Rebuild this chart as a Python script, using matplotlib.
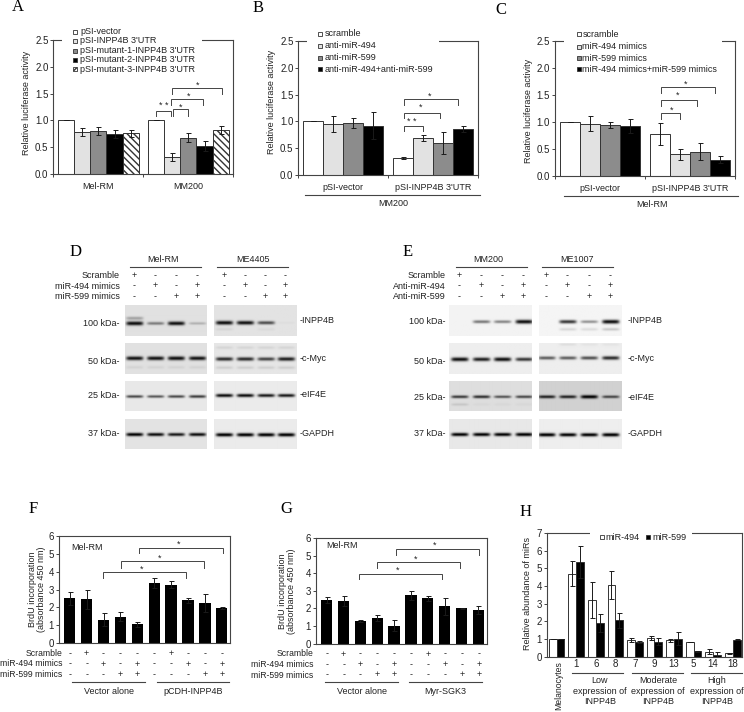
import numpy as np
import matplotlib
matplotlib.use("Agg")
import matplotlib.pyplot as plt
from matplotlib.patches import Rectangle

plt.rcParams['font.family'] = ['Liberation Sans', 'DejaVu Sans']

# --- Data ---
A_CATS = ['Mel-RM', 'MM200']
A_LEG = ['pSI-vector', "pSI-INPP4B 3'UTR", "pSI-mutant-1-INPP4B 3'UTR", "pSI-mutant-2-INPP4B 3'UTR", "pSI-mutant-3-INPP4B 3'UTR"]
A_VALS = [[1.0, 1.0], [0.78, 0.32], [0.80, 0.68], [0.75, 0.52], [0.76, 0.82]]
A_ERR = [[0, 0], [0.07, 0.07], [0.07, 0.08], [0.08, 0.09], [0.07, 0.07]]

B_CATS = ['pSI-vector', "pSI-INPP4B 3'UTR"]
B_LEG = ['scramble', 'anti-miR-494', 'anti-miR-599', 'anti-miR-494+anti-miR-599']
B_VALS = [[1.0, 0.32], [0.95, 0.69], [0.97, 0.60], [0.92, 0.86]]
B_ERR = [[0, 0.02], [0.15, 0.05], [0.10, 0.20], [0.25, 0.05]]

C_CATS = ['pSI-vector', "pSI-INPP4B 3'UTR"]
C_LEG = ['scramble', 'miR-494 mimics', 'miR-599 mimics', 'miR-494 mimics+miR-599 mimics']
C_VALS = [[1.0, 0.78], [0.97, 0.40], [0.94, 0.45], [0.93, 0.30]]
C_ERR = [[0, 0.20], [0.14, 0.10], [0.05, 0.16], [0.13, 0.07]]

F_VALS = [2.50, 2.45, 1.30, 1.47, 1.03, 3.37, 3.28, 2.38, 2.22, 1.97]
F_ERR = [0.35, 0.55, 0.35, 0.25, 0.13, 0.27, 0.18, 0.15, 0.50, 0.05]
G_VALS = [2.48, 2.42, 1.30, 1.47, 1.02, 2.75, 2.57, 2.12, 2.00, 1.92]
G_ERR = [0.15, 0.27, 0.05, 0.18, 0.30, 0.25, 0.12, 0.50, 0.05, 0.22]

SCRAMBLE_SIGNS = list('-+---' '-+---')
M494_SIGNS = list('--+-+' '--+-+')
M599_SIGNS = list('---++' '---++')

H_CATS = ['Melanocytes', '1', '6', '8', '7', '9', '13', '5', '14', '18']
H_494 = [1.0, 4.70, 3.20, 4.07, 0.95, 1.05, 0.92, 0.83, 0.28, 0.20]
H_494_ERR = [0, 0.70, 1.00, 0.80, 0.12, 0.12, 0.08, 0.02, 0.13, 0.03]
H_599 = [0.98, 5.37, 1.90, 2.07, 0.82, 0.85, 1.02, 0.30, 0.10, 0.95]
H_599_ERR = [0, 0.90, 0.50, 0.43, 0.05, 0.20, 0.35, 0.05, 0.15, 0.03]

# blot band strengths per row (INPP4B, c-Myc, eIF4E, GAPDH)
D_MEL = [[1.0, 0.45, 0.9, 0.22], [0.9, 0.9, 0.95, 0.9], [0.6, 0.55, 0.6, 0.65], [0.9, 0.85, 0.8, 0.85]]
D_ME4405 = [[0.95, 0.9, 0.65, 0.03], [0.8, 0.8, 0.7, 0.85], [0.85, 0.85, 0.8, 0.8], [0.95, 0.95, 0.95, 0.95]]
E_MM200 = [[0.0, 0.5, 0.45, 0.95], [0.95, 0.85, 0.95, 0.75], [0.65, 0.7, 0.55, 0.6], [0.9, 0.9, 0.9, 0.95]]
E_ME1007 = [[0.0, 0.75, 0.4, 0.95], [0.6, 0.6, 0.65, 0.8], [0.75, 0.75, 0.95, 0.6], [0.95, 0.9, 0.9, 0.95]]
D_BG = [[0.88, 0.88, 0.91, 0.89], [0.89, 0.90, 0.92, 0.92]]
E_BG = [[0.95, 0.93, 0.87, 0.91], [0.96, 0.93, 0.82, 0.93]]
# faint extra bands: (blot, row) -> list of (y offset in the row, strength per lane)
FAINT = {
    (0, 0): [(12.3, [0.3, 0, 0, 0])],
    (0, 1): [(23, [0.06, 0.06, 0.06, 0.06])],
    (1, 0): [(23, [0.06, 0, 0.04, 0])],
    (1, 1): [(4, [0.07, 0.07, 0.07, 0.07]), (23.3, [0.1, 0.1, 0.1, 0.1])],
    (2, 2): [(23, [0.1, 0.03, 0.03, 0.03])],
    (3, 0): [(23, [0, 0.12, 0.1, 0.18])],
    (3, 1): [(1, [0, 0.06, 0.04, 0.04])],
}

COLORS = ['white', '#e2e2e2', '#8c8c8c', 'black']
EDGE = '#333333'
GRAY = '#444444'
ERR = '#1a1a1a'

fig = plt.figure(figsize=(7.44, 7.12), dpi=100)


def px_axes(left, top, right, bottom):
    return fig.add_axes([left / 744, 1 - bottom / 712, (right - left) / 744, (bottom - top) / 712])


def style(ax, ymax, yticks, fmt):
    ax.set_ylim(0, ymax)
    ax.set_yticks(yticks)
    ax.set_yticklabels([fmt % t for t in yticks], fontsize=7, color='#222222')
    ax.tick_params(axis='y', length=2, width=0.7, pad=1.5, color=GRAY)
    ax.tick_params(axis='x', length=2, width=0.7, color=GRAY)
    for s in ax.spines.values():
        s.set_linewidth(0.8)
        s.set_color(GRAY)


def luciferase(ax, cats, vals, errs, width, label_y):
    n = len(vals)
    for i in range(n):
        xs = np.arange(2) + 0.5 + (i - (n - 1) / 2) * width
        hatch = None
        color = COLORS[i] if i < 4 else 'white'
        if i == 4:
            hatch = '\\\\\\\\\\'
        ax.bar(xs, vals[i], width, color=color, edgecolor=EDGE, linewidth=0.7, hatch=hatch)
        ax.errorbar(xs, vals[i], yerr=errs[i], fmt='none', ecolor=ERR, elinewidth=0.7, capsize=1.8, capthick=0.7)
    ax.set_xlim(0, 2)
    ax.set_xticks([0, 1, 2])
    ax.set_xticklabels([])
    ax.set_xticks([0.5, 1.5], minor=True)
    ax.set_xticklabels(cats, minor=True, fontsize=6.5, color='#222222')
    ax.tick_params(axis='x', which='minor', length=0, pad=6)
    style(ax, 2.5, [0, 0.5, 1.0, 1.5, 2.0, 2.5], '%.1f')
    ax.set_ylabel('Relative luciferase activity', fontsize=6.5, color='#222222', labelpad=3, y=label_y)


def brdu(ax, vals, errs, x_first, pitch, left, right, labelpad):
    xs = np.arange(len(vals))
    ax.bar(xs, vals, 0.67, color='black')
    ax.errorbar(xs, vals, yerr=errs, fmt='none', ecolor=ERR, elinewidth=0.7, capsize=1.8, capthick=0.7)
    ax.set_xlim((left - x_first) / pitch, (right - x_first) / pitch)
    ax.set_xticks([])
    style(ax, 6, [0, 1, 2, 3, 4, 5, 6], '%d')
    ax.set_ylabel('BrdU incorporation\n(absorbance 450 nm)', fontsize=6.5, color='#222222', labelpad=labelpad, linespacing=1.0)


# Panels A, B, C
ax_a = px_axes(53.3, 40, 233.3, 174)
luciferase(ax_a, A_CATS, A_VALS, A_ERR, 0.181, 0.53)
ax_b = px_axes(298.3, 41, 478, 175)
luciferase(ax_b, B_CATS, B_VALS, B_ERR, 0.222, 0.547)
ax_c = px_axes(555, 41.3, 735, 175.7)
luciferase(ax_c, C_CATS, C_VALS, C_ERR, 0.222, 0.48)

# Panels F, G
ax_f = px_axes(59, 536.3, 230, 642.7)
brdu(ax_f, F_VALS, F_ERR, 69.7, 16.9, 59, 230, 2)
ax_g = px_axes(316, 538, 486.7, 643.7)
brdu(ax_g, G_VALS, G_ERR, 326.7, 16.85, 316, 486.7, 7)

# Panel H
ax_h = px_axes(546.7, 533, 741.7, 656.7)
xh = np.arange(len(H_CATS))
ax_h.bar(xh - 0.2, H_494, 0.4, color='white', edgecolor=EDGE, linewidth=0.7)
ax_h.bar(xh + 0.2, H_599, 0.4, color='black', edgecolor=EDGE, linewidth=0.7)
ax_h.errorbar(xh - 0.2, H_494, yerr=H_494_ERR, fmt='none', ecolor=ERR, elinewidth=0.7, capsize=1.8, capthick=0.7)
ax_h.errorbar(xh + 0.2, H_599, yerr=H_599_ERR, fmt='none', ecolor=ERR, elinewidth=0.7, capsize=1.8, capthick=0.7)
ax_h.set_xlim(-0.51, 9.46)
ax_h.set_xticks(xh[1:])
ax_h.set_xticklabels(H_CATS[1:], fontsize=7, color='#222222')
style(ax_h, 7, [0, 1, 2, 3, 4, 5, 6, 7], '%d')
ax_h.tick_params(axis='x', length=0, pad=2)
ax_h.set_ylabel('Relative abundance of miRs', fontsize=6.5, color='#222222', labelpad=3, y=0.51)

# overlay in pixel coordinates for labels, brackets, blots
ov = fig.add_axes([0, 0, 1, 1], zorder=10)
ov.patch.set_alpha(0)
ov.axis('off')


def txt(x, y, s, ha='left', size=6.5, **kw):
    ov.text(x, y, s, ha=ha, va='center', fontsize=size, color=kw.pop('color', '#222222'), **kw)


def bracket(x0, x1, top, bottom, star_x, star_y, stars='*'):
    ov.plot([x0, x0, x1, x1], [bottom, top, top, bottom], color=GRAY, lw=0.7, solid_joinstyle='miter')
    txt(star_x, star_y, stars, ha='center', size=6.5)


def gap(x0, x1, y):
    ov.add_patch(Rectangle((x0, y - 2), x1 - x0, 4, color='white', zorder=1.5, lw=0))


def legend(x_sq, x_txt, ys, labels):
    for i, (y, lab) in enumerate(zip(ys, labels)):
        hatch = '//////' if i == 4 else None
        ov.add_patch(Rectangle((x_sq - 2, y - 2), 4, 4, facecolor=COLORS[i] if i < 4 else 'white',
                               edgecolor=EDGE, lw=0.6, hatch=hatch, zorder=3))
        txt(x_txt, y, lab, zorder=3)


def letter(x, y, s):
    ov.text(x, y, s, ha='center', va='center', fontsize=12, family='Liberation Serif', color='black')


def blot(left, top, right, bottom, strengths, lanes, band_y, bg, extras):
    w = int(right - left)
    h = int(bottom - top)
    yy, xx = np.mgrid[0:h, 0:w]
    img = np.full((h, w), float(bg))
    for k, (lane, s) in enumerate(zip(lanes, strengths)):
        cx = lane * w
        across = np.exp(-((xx - cx) / 8.5) ** 6)
        height = 0.9 + 1.0 * s
        img -= (bg - 0.02) * min(1, s * 1.1) * across * np.exp(-((yy - band_y) / height) ** 2)
        for off, fs in extras:
            img -= bg * fs[k] * across * np.exp(-((yy - off) / 1.4) ** 2)
    ov.imshow(np.clip(img, 0, 1), cmap='gray', vmin=0, vmax=1, extent=(left, right, bottom, top), aspect='auto',
              interpolation='bilinear', zorder=1)


for s, x, y in [('A', 17.5, 7), ('B', 258, 8), ('C', 500.5, 10), ('D', 76, 252), ('E', 408, 252),
                ('F', 33, 509), ('G', 286, 509), ('H', 526, 512)]:
    letter(x, y, s)

# A annotations
gap(62.3, 201.7, 40)
legend(75, 80, [31.7, 40.7, 50.7, 60, 69.3], A_LEG)
bracket(156, 170.7, 111, 116, 163.5, 106, '* *')
bracket(173.3, 188.3, 109.3, 116, 181, 107, '*')
bracket(171.3, 203.3, 98.7, 105, 189, 96, '*')
bracket(172, 222.3, 87.7, 94.3, 197.3, 85, '*')

# B annotations
gap(307.3, 439, 41)
legend(320.3, 325, [33.7, 45.7, 57.7, 69], B_LEG)
bracket(404.3, 423.3, 125.7, 131, 411.7, 122, '* *')
bracket(404.3, 440, 113, 118.3, 420.7, 107, '*')
bracket(404.3, 458.3, 99.3, 105, 429.3, 96.5, '*')
ov.plot([305, 480], [195, 195], color=GRAY, lw=0.8)
txt(393, 204, 'MM200', ha='center')

# C annotations
gap(564, 722.3, 41.3)
legend(578.7, 582.3, [34.3, 46.7, 58.3, 69.3], C_LEG)
bracket(660.7, 680, 113.3, 119.3, 671.7, 110, '*')
bracket(660.7, 696.7, 100, 106, 677.3, 95, '*')
bracket(660.7, 715, 87.3, 93.3, 686, 84, '*')
ov.plot([564, 738.3], [195.7, 195.7], color=GRAY, lw=0.8)
txt(651.7, 204.3, 'Mel-RM', ha='center')

# D / E blots
ROW_TOPS = [305.3, 343.3, 381.3, 419.3]
ROW_BOTTOMS = [336, 373.7, 411.3, 449.3]
BLOTS = [
    (125, 207, D_MEL, [0.113, 0.368, 0.62, 0.879], [17.3, 14.3, 15, 15], D_BG[0]),
    (214, 296.3, D_ME4405, [0.12, 0.372, 0.623, 0.866], [16.7, 15, 14, 15.3], D_BG[1]),
    (449, 531.7, E_MM200, [0.125, 0.387, 0.64, 0.90], [15.7, 15.3, 15.3, 15], E_BG[0]),
    (539, 621.7, E_ME1007, [0.089, 0.343, 0.60, 0.859], [15.7, 14, 15.3, 15.3], E_BG[1]),
]
for b, (left, right, strengths, lanes, band_ys, bgs) in enumerate(BLOTS):
    for r in range(4):
        blot(left, ROW_TOPS[r], right, ROW_BOTTOMS[r], strengths[r], lanes, band_ys[r], bgs[r], FAINT.get((b, r), []))

SIGN_ROWS = [list('+---'), list('-+-+'), list('--++')]
SIGN_Y = [275.7, 286.3, 296.7]


def blot_header(names, name_x, lines, label_x, row_labels, lanes_px):
    for n, x, (x0, x1) in zip(names, name_x, lines):
        txt(x, 260, n, ha='center')
        ov.plot([x0, x1], [267.3, 267.3], color=GRAY, lw=0.8)
    for y, lab, signs in zip(SIGN_Y, row_labels, SIGN_ROWS):
        txt(label_x, y, lab, ha='right')
        for x, sg in zip(lanes_px, signs * 2):
            txt(x, y - 0.5, sg, ha='center')


blot_header(['Mel-RM', 'ME4405'], [163.3, 252.7], [(130.3, 201), (217.3, 288)], 120,
            ['Scramble', 'miR-494 mimics', 'miR-599 mimics'],
            [134.3, 155.3, 176, 197.3, 224, 244.7, 265.3, 285.3])
blot_header(['MM200', 'ME1007'], [488.3, 577], [(456, 526.7), (541.7, 612.7)], 445.3,
            ['Scramble', 'Anti-miR-494', 'Anti-miR-599'],
            [459.3, 481, 502, 523.3, 546.3, 567.3, 588.7, 610])

for lab, y_d, y_e in zip(['100 kDa-', '50 kDa-', '25 kDa-', '37 kDa-'], [323, 362, 395.3, 433.3], [321.7, 362, 398, 433.3]):
    txt(119.3, y_d, lab, ha='right')
    txt(445.3, y_e, lab, ha='right')
for lab, y_d, y_e in zip(['-INPP4B', '-c-Myc', '-eIF4E', '-GAPDH'], [320.7, 358.3, 394.7, 433.7], [320.7, 358.3, 397, 434]):
    txt(300, y_d, lab)
    txt(627.3, y_e, lab)

# F annotations
txt(71.7, 547.3, 'Mel-RM')
bracket(102.7, 186, 571.7, 578.3, 141.7, 569, '*')
bracket(120.7, 203.7, 561, 567.7, 159.7, 558.3, '*')
bracket(139.3, 222.7, 547.7, 553.3, 178.7, 544.3, '*')

# G annotations
txt(326.7, 546, 'Mel-RM')
bracket(359, 442, 574, 579.3, 397.3, 570, '*')
bracket(376.7, 460, 562.3, 568.3, 415.3, 559.3, '*')
bracket(396, 479, 549, 555, 434.3, 545.7, '*')

# sign rows under F and G
for labels_x, xs, shift, lines, names, name_x in [
    (62.7, 69.7, 0, [(72.3, 145), (156.7, 229)], ['Vector alone', 'pCDH-INPP4B'], [109, 192.7]),
    (313.7, 326.7, 1, [(325, 397.7), (409, 481.7)], ['Vector alone', 'Myr-SGK3'], [361.7, 445.3]),
]:
    for y, lab, signs in zip([653.7, 664, 674.7], ['Scramble', 'miR-494 mimics', 'miR-599 mimics'],
                             [SCRAMBLE_SIGNS, M494_SIGNS, M599_SIGNS]):
        txt(labels_x, y + 0.3 * shift, lab, ha='right', size=6.2)
        for i, sg in enumerate(signs):
            txt(xs + i * 16.9, y + 0.3 * shift, sg, ha='center')
    for (x0, x1), n, nx in zip(lines, names, name_x):
        ov.plot([x0, x1], [681.7, 681.7], color=GRAY, lw=0.8)
        txt(nx, 691, n, ha='center')

# H annotations
gap(590, 691.7, 533)
ov.add_patch(Rectangle((599.7, 534.7), 4, 4, facecolor='white', edgecolor=EDGE, lw=0.6, zorder=3))
txt(605.7, 537.3, 'miR-494', zorder=3)
ov.add_patch(Rectangle((646.3, 534.7), 4, 4, facecolor='black', edgecolor=EDGE, lw=0.6, zorder=3))
txt(652.7, 537.3, 'miR-599', zorder=3)
txt(558.3, 686, H_CATS[0], ha='center', rotation=90, size=6.2)
for (x0, x1), name, cx in zip([(572, 623.3), (632.3, 682.7), (691, 741.7)], ['Low', 'Moderate', 'High'], [600, 658.3, 716.7]):
    ov.plot([x0, x1], [672.7, 672.7], color=GRAY, lw=0.8)
    txt(cx, 680.7, name, ha='center')
    txt(cx, 691.7, 'expression of', ha='center')
    txt(cx, 701.7, 'INPP4B', ha='center')

ov.set_xlim(0, 744)
ov.set_ylim(712, 0)

plt.savefig('out.png', dpi=100)
plt.close()
